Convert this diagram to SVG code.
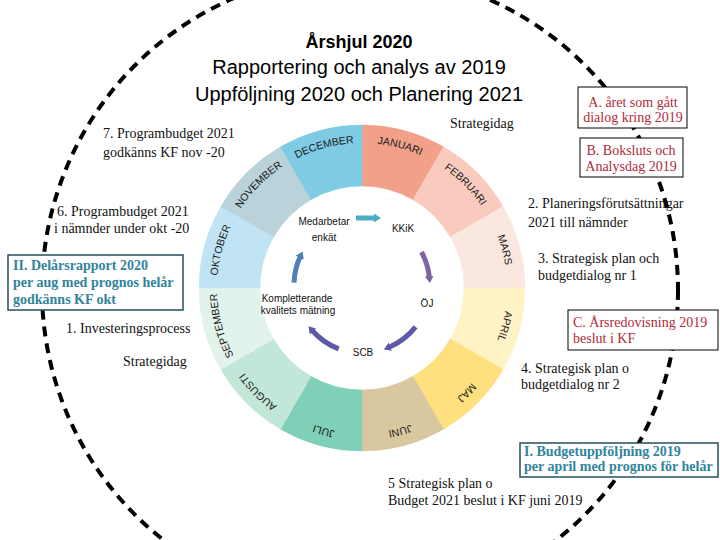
<svg xmlns="http://www.w3.org/2000/svg" width="720" height="540" viewBox="0 0 720 540">
<style>
.t{font-family:"Liberation Serif","Times New Roman",serif;font-size:14px;fill:#111}
.red{fill:#B02A3A}
.tb{font-family:"Liberation Serif","Times New Roman",serif;font-size:14px;font-weight:bold;fill:#31849B}
.ttl{font-family:"Liberation Sans",Arial,sans-serif;font-size:20px;fill:#000;text-anchor:middle}
.mon{font-family:"Liberation Sans",Arial,sans-serif;font-size:10.5px;fill:#1a1a1a;text-anchor:middle}
.in{font-family:"Liberation Sans",Arial,sans-serif;font-size:10px;fill:#111;text-anchor:middle}
.box{fill:#fff;stroke:#000;stroke-width:1}
.tbox{fill:#fff;stroke:#244F5C;stroke-width:1.5}
.arr{fill:none;stroke-width:5}
</style>
<defs>
<path id="lbl" d="M362 143 A145 145 0 0 1 362 433 A145 145 0 0 1 362 143"/>
<marker id="m1" markerUnits="userSpaceOnUse" markerWidth="9" markerHeight="9" refX="2" refY="4.5" orient="auto"><path d="M0 0 L7 4.5 L0 9 Z" fill="#4BACC6"/></marker>
<marker id="m2" markerUnits="userSpaceOnUse" markerWidth="9" markerHeight="9" refX="2" refY="4.5" orient="auto"><path d="M0 0 L7 4.5 L0 9 Z" fill="#8064A2"/></marker>
<marker id="m3" markerUnits="userSpaceOnUse" markerWidth="9" markerHeight="9" refX="2" refY="4.5" orient="auto"><path d="M0 0 L7 4.5 L0 9 Z" fill="#5E5AA6"/></marker>
<marker id="m4" markerUnits="userSpaceOnUse" markerWidth="9" markerHeight="9" refX="2" refY="4.5" orient="auto"><path d="M0 0 L7 4.5 L0 9 Z" fill="#4F7FBA"/></marker>
</defs>
<rect width="720" height="540" fill="#fff"/>

<circle id="dashed-circle" cx="360" cy="290" r="318" fill="none" stroke="#000" stroke-width="4" stroke-dasharray="10 7"/>

<g id="wheel">
<path d="M362 125 A163 163 0 0 1 443.5 146.84 L413 199.67 A102 102 0 0 0 362 186 Z" fill="#F2A08A" stroke="#F2A08A" stroke-width="0.5"/>
<path d="M443.5 146.84 A163 163 0 0 1 503.16 206.5 L450.33 237 A102 102 0 0 0 413 199.67 Z" fill="#F8CBBE" stroke="#F8CBBE" stroke-width="0.5"/>
<path d="M503.16 206.5 A163 163 0 0 1 525 288 L464 288 A102 102 0 0 0 450.33 237 Z" fill="#FAE8E0" stroke="#FAE8E0" stroke-width="0.5"/>
<path d="M525 288 A163 163 0 0 1 503.16 369.5 L450.33 339 A102 102 0 0 0 464 288 Z" fill="#FFF2C4" stroke="#FFF2C4" stroke-width="0.5"/>
<path d="M503.16 369.5 A163 163 0 0 1 443.5 429.16 L413 376.33 A102 102 0 0 0 450.33 339 Z" fill="#FEE07E" stroke="#FEE07E" stroke-width="0.5"/>
<path d="M443.5 429.16 A163 163 0 0 1 362 451 L362 390 A102 102 0 0 0 413 376.33 Z" fill="#D9C7A0" stroke="#D9C7A0" stroke-width="0.5"/>
<path d="M362 451 A163 163 0 0 1 280.5 429.16 L311 376.33 A102 102 0 0 0 362 390 Z" fill="#80CFB8" stroke="#80CFB8" stroke-width="0.5"/>
<path d="M280.5 429.16 A163 163 0 0 1 220.84 369.5 L273.67 339 A102 102 0 0 0 311 376.33 Z" fill="#C2E6D8" stroke="#C2E6D8" stroke-width="0.5"/>
<path d="M220.84 369.5 A163 163 0 0 1 199 288 L260 288 A102 102 0 0 0 273.67 339 Z" fill="#E2F3EB" stroke="#E2F3EB" stroke-width="0.5"/>
<path d="M199 288 A163 163 0 0 1 220.84 206.5 L273.67 237 A102 102 0 0 0 260 288 Z" fill="#C0E4F4" stroke="#C0E4F4" stroke-width="0.5"/>
<path d="M220.84 206.5 A163 163 0 0 1 280.5 146.84 L311 199.67 A102 102 0 0 0 273.67 237 Z" fill="#BAD3DB" stroke="#BAD3DB" stroke-width="0.5"/>
<path d="M280.5 146.84 A163 163 0 0 1 362 125 L362 186 A102 102 0 0 0 311 199.67 Z" fill="#7FCBE4" stroke="#7FCBE4" stroke-width="0.5"/>
<text class="mon"><textPath href="#lbl" startOffset="4.1667%">JANUARI</textPath></text>
<text class="mon"><textPath href="#lbl" startOffset="12.5%">FEBRUARI</textPath></text>
<text class="mon"><textPath href="#lbl" startOffset="20.833%">MARS</textPath></text>
<text class="mon"><textPath href="#lbl" startOffset="29.167%">APRIL</textPath></text>
<text class="mon"><textPath href="#lbl" startOffset="37.5%">MAJ</textPath></text>
<text class="mon"><textPath href="#lbl" startOffset="45.833%">JUNI</textPath></text>
<text class="mon"><textPath href="#lbl" startOffset="54.167%">JULI</textPath></text>
<text class="mon"><textPath href="#lbl" startOffset="62.5%">AUGUSTI</textPath></text>
<text class="mon"><textPath href="#lbl" startOffset="70.833%">SEPTEMBER</textPath></text>
<text class="mon"><textPath href="#lbl" startOffset="79.167%">OKTOBER</textPath></text>
<text class="mon"><textPath href="#lbl" startOffset="87.5%">NOVEMBER</textPath></text>
<text class="mon"><textPath href="#lbl" startOffset="95.833%">DECEMBER</textPath></text>
</g>

<g id="connectors">
<path class="arr" d="M356 218 L376 218" stroke="#4BACC6" marker-end="url(#m1)"/>
<path class="arr" d="M421.5 252 A68 68 0 0 1 429.4 278" stroke="#8064A2" marker-end="url(#m2)"/>
<path class="arr" d="M415.6 326.9 A68 68 0 0 1 388.5 347.5" stroke="#5E5AA6" marker-end="url(#m3)"/>
<path class="arr" d="M338.7 348.9 A68 68 0 0 1 311.8 330" stroke="#5E5AA6" marker-end="url(#m3)"/>
<path class="arr" d="M294 282.6 A68 68 0 0 1 300.5 256" stroke="#4F7FBA" marker-end="url(#m4)"/>
</g>

<g id="inner-labels">
<text class="in" x="324" y="225">Medarbetar</text>
<text class="in" x="324" y="241">enkät</text>
<text class="in" x="403" y="232">KKiK</text>
<text class="in" x="427" y="307">ÖJ</text>
<text class="in" x="363" y="356">SCB</text>
<text class="in" x="297" y="302">Kompletterande</text>
<text class="in" x="298" y="314">kvalitets mätning</text>
</g>

<g id="title">
<text class="ttl" x="359" y="48" style="font-size:18px;font-weight:bold">Årshjul 2020</text>
<text class="ttl" x="359" y="74">Rapportering och analys av 2019</text>
<text class="ttl" x="359" y="101">Uppföljning 2020 och Planering 2021</text>
</g>

<g id="node-A">
<rect class="box" x="578" y="87" width="109" height="41"/>
<text class="t red" x="633" y="107" text-anchor="middle">A. året som gått</text>
<text class="t red" x="633" y="122" text-anchor="middle">dialog kring 2019</text>
</g>
<g id="node-B">
<rect class="box" x="580" y="138" width="103" height="39"/>
<text class="t red" x="631" y="155" text-anchor="middle">B. Boksluts och</text>
<text class="t red" x="631" y="171" text-anchor="middle">Analysdag 2019</text>
</g>
<g id="node-C">
<rect class="box" x="568" y="310" width="150" height="40"/>
<text class="t red" x="573" y="327">C. Årsredovisning 2019</text>
<text class="t red" x="573" y="343">beslut i KF</text>
</g>
<g id="node-II">
<rect class="tbox" x="8" y="255" width="175" height="55"/>
<text class="tb" x="13" y="270">II. Delårsrapport 2020</text>
<text class="tb" x="13" y="287">per aug med prognos helår</text>
<text class="tb" x="13" y="304">godkänns KF okt</text>
</g>
<g id="node-I">
<rect class="tbox" x="520" y="443" width="198" height="34"/>
<text class="tb" x="524" y="456">I. Budgetuppföljning 2019</text>
<text class="tb" x="524" y="471">per april med prognos för helår</text>
</g>

<g id="labels">
<text class="t" x="450" y="128">Strategidag</text>
<text class="t" x="103" y="138">7. Programbudget 2021</text>
<text class="t" x="103" y="157">godkänns KF nov -20</text>
<text class="t" x="57" y="216">6. Programbudget 2021</text>
<text class="t" x="54" y="233">i nämnder under okt -20</text>
<text class="t" x="66" y="333">1. Investeringsprocess</text>
<text class="t" x="123" y="366">Strategidag</text>
<text class="t" x="528" y="208">2. Planeringsförutsättningar</text>
<text class="t" x="528" y="227">2021 till nämnder</text>
<text class="t" x="538" y="263">3. Strategisk plan och</text>
<text class="t" x="538" y="280">budgetdialog nr 1</text>
<text class="t" x="521" y="373">4. Strategisk plan o</text>
<text class="t" x="521" y="389">budgetdialog nr 2</text>
<text class="t" x="388" y="488">5 Strategisk plan o</text>
<text class="t" x="388" y="505">Budget 2021 beslut i KF juni 2019</text>
</g>
</svg>
